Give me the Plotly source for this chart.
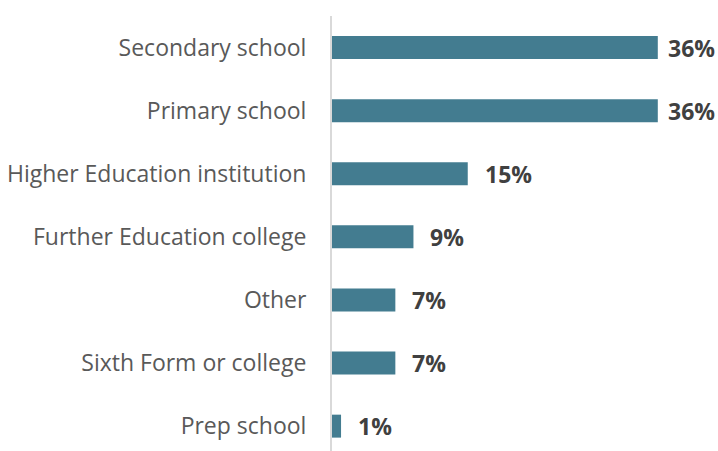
import plotly.graph_objects as go

# Share of respondents by type of institution
categories = [
    "Secondary school",
    "Primary school",
    "Higher Education institution",
    "Further Education college",
    "Other",
    "Sixth Form or college",
    "Prep school",
]
values = [36, 36, 15, 9, 7, 7, 1]
value_labels = ["36%", "36%", "15%", "9%", "7%", "7%", "1%"]

BAR_COLOR = "#437C90"
LABEL_COLOR = "#595959"
VALUE_COLOR = "#404040"
FONT = "Segoe UI, Open Sans, sans-serif"

fig = go.Figure(
    go.Bar(
        x=values,
        y=categories,
        orientation="h",
        marker=dict(color=BAR_COLOR, line=dict(width=0)),
        hoverinfo="skip",
    )
)

# Value labels to the right of each bar; the longest bars sit a bit tighter
for cat, v, lab in zip(categories, values, value_labels):
    fig.add_annotation(
        x=v,
        y=cat,
        xref="x",
        yref="y",
        text=f"<b>{lab}</b>",
        showarrow=False,
        xanchor="left",
        yanchor="middle",
        xshift=8 if v >= 30 else 15,
        font=dict(family=FONT, size=23, color=VALUE_COLOR),
    )

fig.update_layout(
    width=718,
    height=451,
    margin=dict(l=332, r=24, t=16, b=0),
    paper_bgcolor="white",
    plot_bgcolor="white",
    showlegend=False,
    bargap=0.636,
    font=dict(family=FONT, size=23, color=LABEL_COLOR),
    xaxis=dict(
        range=[0, 40],
        visible=False,
        fixedrange=True,
    ),
    yaxis=dict(
        categoryorder="array",
        categoryarray=categories,
        range=[6.394, -0.5],
        showline=True,
        linecolor="#D9D9D9",
        linewidth=2,
        showgrid=False,
        zeroline=False,
        ticks="",
        ticklabelstandoff=19,
        tickfont=dict(family=FONT, size=23, color=LABEL_COLOR),
        fixedrange=True,
    ),
)

fig.write_html("out.html")
